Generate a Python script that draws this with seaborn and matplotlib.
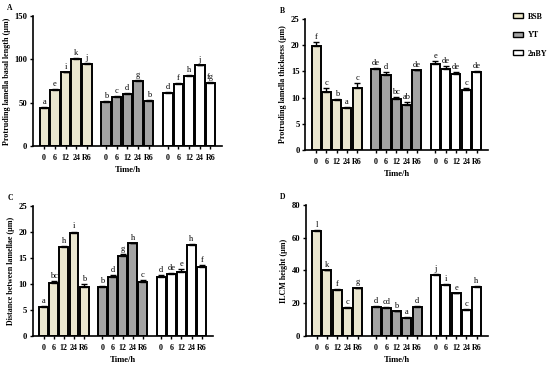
import matplotlib.pyplot as plt
import pandas as pd
import seaborn as sns
from matplotlib.patches import Patch

groups = ['BSB', 'YT', '2nBY']
times = ['0', '6', '12', '24', 'R6']
colors = ['#EEE9CB', '#A3A3A3', '#FFFFFF']

# panel A - protruding lamella basal length
a_mean = [44, 65, 85, 101, 95, 51, 57, 60, 75, 52, 61, 72, 81, 93, 73]
a_err = [1.0, 1.0, 1.0, 1.0, 1.0, 1.0, 1.0, 1.0, 1.0, 1.0, 1.0, 1.0, 1.0, 1.0, 1.0]
a_let = ['a', 'e', 'i', 'k', 'j', 'b', 'c', 'd', 'g', 'b', 'd', 'f', 'h', 'j', 'fg']

# panel B - protruding lamella thickness
b_mean = [19.9, 11.0, 9.6, 8.0, 11.8, 15.4, 14.4, 9.7, 8.6, 15.2, 16.5, 15.4, 14.6, 11.4, 14.9]
b_err = [0.7, 0.9, 0.2, 0.3, 1.0, 0.2, 0.4, 0.4, 0.5, 0.15, 0.4, 0.7, 0.3, 0.4, 0.2]
b_let = ['f', 'c', 'b', 'a', 'c', 'de', 'd', 'bc', 'ab', 'de', 'e', 'de', 'de', 'c', 'de']

# panel C - distance between lamellae
c_mean = [5.5, 10.2, 17.1, 19.9, 9.5, 9.5, 11.4, 15.3, 17.8, 10.4, 11.3, 11.9, 12.3, 17.6, 13.2]
c_err = [0.3, 0.3, 0.3, 0.2, 0.5, 0.1, 0.3, 0.4, 0.1, 0.4, 0.4, 0.2, 0.6, 0.1, 0.4]
c_let = ['a', 'bc', 'h', 'i', 'b', 'b', 'd', 'g', 'h', 'c', 'd', 'de', 'e', 'h', 'f']

# panel D - ILCM height
d_mean = [64, 40, 28, 17, 29, 18, 17, 15, 11, 18, 37, 31, 26, 16, 30]
d_err = [0.8, 0.5, 0.5, 0.5, 0.6, 0.5, 0.5, 0.5, 0.5, 0.5, 0.8, 0.6, 0.5, 0.5, 0.5]
d_let = ['l', 'k', 'f', 'c', 'g', 'd', 'cd', 'b', 'a', 'd', 'j', 'i', 'e', 'c', 'h']

plt.rcParams['font.family'] = ['Liberation Serif', 'DejaVu Serif']

fig = plt.figure(figsize=(5.5, 3.66), dpi=100)

panels = [
    ('A', a_mean, a_err, a_let, 'Protruding lamella basal length (μm)', 150, 50, [0.060, 0.601, 0.344, 0.355]),
    ('B', b_mean, b_err, b_let, 'Protruding lamella thickness (μm)', 25, 5, [0.555, 0.590, 0.332, 0.358]),
    ('C', c_mean, c_err, c_let, 'Distance between lamellae (μm)', 25, 5, [0.060, 0.082, 0.327, 0.355]),
    ('D', d_mean, d_err, d_let, 'ILCM height (μm)', 80, 20, [0.556, 0.082, 0.331, 0.358]),
]

for tag, mean, err, let, ylab, ymax, ystep, rect in panels:
    pos = [g * 5.8 + i for g in range(3) for i in range(5)]
    df = pd.DataFrame({
        'pos': pos,
        'mean': mean,
        'err': err,
        'letter': let,
        'group': [g for g in groups for _ in times],
    })
    ax = fig.add_axes(rect)
    sns.barplot(data=df, x='pos', y='mean', hue='group', hue_order=groups,
                palette=colors, native_scale=True, dodge=False, width=0.88,
                errorbar=None, edgecolor='black', linewidth=1.4,
                legend=False, ax=ax)
    ax.errorbar(df['pos'], df['mean'], yerr=[[0] * len(df), df['err']],
                fmt='none', ecolor='black', elinewidth=1.0, capsize=2.2, capthick=1.0)
    for _, r in df.iterrows():
        ax.text(r['pos'], r['mean'] + r['err'] + ymax * 0.008, r['letter'],
                ha='center', va='bottom', fontsize=6)
    ax.set_xlim(-1.05, 16.7)
    ax.set_ylim(0, ymax)
    ax.set_yticks(range(0, ymax + 1, ystep))
    ax.set_xticks(pos)
    ax.set_xticklabels(times * 3)
    ax.tick_params(axis='y', labelsize=6.2, width=1.0, length=2.5, pad=1.5)
    ax.tick_params(axis='x', labelsize=5.8, width=1.0, length=2.5, pad=3)
    for lbl in ax.get_xticklabels() + ax.get_yticklabels():
        lbl.set_fontweight('bold')
    ax.set_ylabel(ylab, fontsize=5.8, fontweight='bold', labelpad=2.5)
    ax.set_xlabel('Time/h', fontsize=6.2, fontweight='bold', labelpad=3)
    sns.despine(ax=ax)
    for s in ['left', 'bottom']:
        ax.spines[s].set_linewidth(1.2)
    fig.text(rect[0] - 0.047, rect[1] + rect[3] + 0.01, tag,
             fontsize=5.5, fontweight='bold', va='bottom')

handles = [Patch(facecolor=c, edgecolor='black', linewidth=1.0) for c in colors]
leg = fig.legend(handles, groups, loc='upper left', bbox_to_anchor=(0.92, 0.985),
                 frameon=False, prop={'size': 5.8, 'weight': 'bold'},
                 handlelength=1.2, handleheight=0.55, labelspacing=1.3, handletextpad=0.6)

fig.savefig('out.png', dpi=100)
